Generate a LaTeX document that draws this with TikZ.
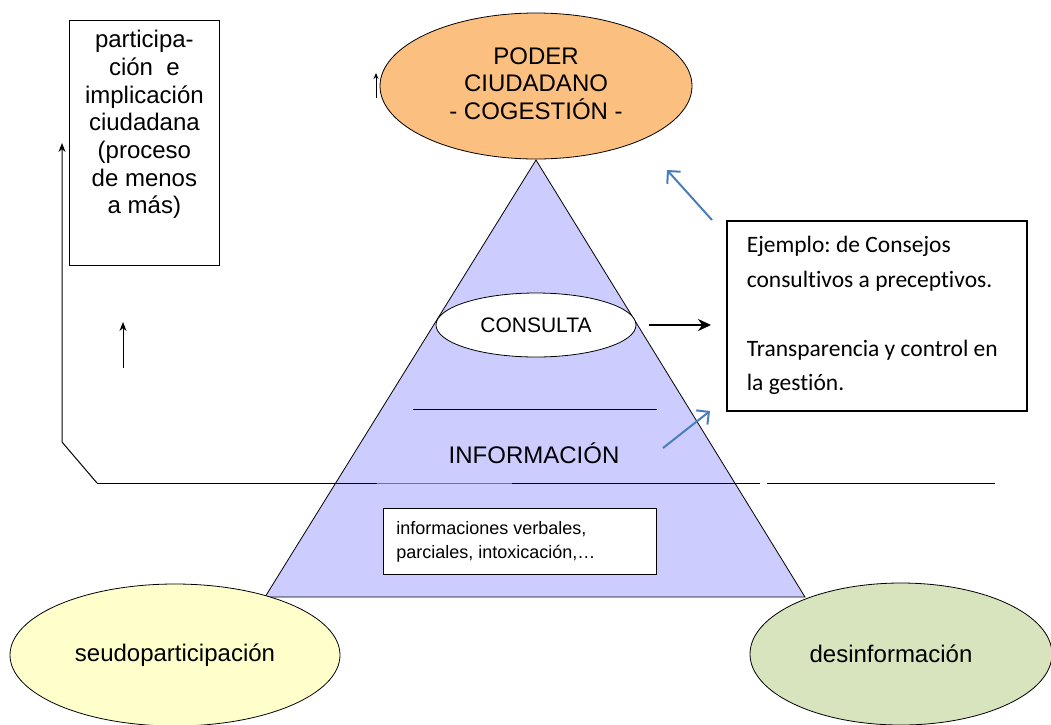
\documentclass[tikz,border=0pt]{standalone}
\usepackage{fontspec}
\setmainfont{Liberation Sans}
\newfontfamily\calibrifont[Ligatures=NoCommon]{Carlito}
\usetikzlibrary{shapes.geometric, arrows.meta, calc}
\definecolor{poderColor}{RGB}{251, 191, 128}
\definecolor{pyramidColor}{RGB}{204, 204, 255}
\definecolor{seudoColor}{RGB}{255, 255, 204}
\definecolor{desinfoColor}{RGB}{215, 228, 189}
\definecolor{blueArrowColor}{RGB}{74, 126, 187}
\frenchspacing

\begin{document}
\begin{tikzpicture}[
    x=1pt, y=-1pt,
    oval/.style={ellipse, draw, line width=0.8pt, inner sep=0pt, align=center},
    box/.style={rectangle, draw, line width=0.8pt, inner sep=0pt},
    arrow/.style={-{Stealth[length=9pt, width=7pt]}, line width=1pt},
    smallarrow/.style={-{Stealth[length=6pt, width=5pt]}, line width=1pt},
    bigarrow/.style={-{Stealth[length=13pt, width=12pt]}, line width=2pt},
    bluearrow/.style={-{Straight Barb[length=9pt, width=18pt]}, blueArrowColor, line width=2pt},
    big/.style={font=\fontsize{24}{27.5}\selectfont}
]
    \useasboundingbox (0,0) rectangle (1051,724);

    % Pyramid
    \coordinate (apex) at (536,160);
    \coordinate (baseL) at (265,597);
    \coordinate (baseR) at (805,597);
    \draw[fill=pyramidColor, line width=0.8pt] (apex) -- (baseL) -- (baseR) -- cycle;
    \draw[line width=1pt] (413,409) -- (657,409);

    % Top
    \node[oval, fill=poderColor, minimum width=312, minimum height=146, big] (poder) at (536,86)
        {PODER\\CIUDADANO\\- COGESTI\'ON -\vphantom{y}};

    % Levels
    \node[oval, fill=white, minimum width=200, minimum height=64, font=\fontsize{21}{24}\selectfont] (consulta) at (536,325) {CONSULTA};
    \node[font=\fontsize{24}{28}\selectfont] (informacion) at (534,453) {INFORMACI\'ON};
    \node[box, fill=white, anchor=north west, minimum width=273, minimum height=66] (verbales) at (383,508)
        {\parbox{247pt}{\fontsize{18}{24}\selectfont informaciones verbales,\\parciales, intoxicaci\'on,\dots}};

    % Side boxes
    \node[box, anchor=north west, minimum width=150, minimum height=245] (proceso) at (69,20)
        {\parbox[t][225pt][t]{140pt}{\centering\fontsize{24}{27.7}\selectfont participa-\\ci\'on~ e\\implicaci\'on\\ciudadana\\(proceso\\de menos\\a m\'as)}};
    \node[box, line width=1.6pt, anchor=north west, minimum width=300, minimum height=190] (ejemplo) at (726,220)
        {\parbox{260pt}{\calibrifont\fontsize{23.5}{34.5}\selectfont Ejemplo: de Consejos\\consultivos a preceptivos.\\[34.5pt]Transparencia y control en\\la gesti\'on.}};

    % Bottom
    \node[oval, fill=seudoColor, minimum width=330, minimum height=142, font=\fontsize{24}{28}\selectfont] (seudo) at (175,655) {seudoparticipaci\'on};
    \node[oval, fill=desinfoColor, minimum width=302, minimum height=142, font=\fontsize{24}{28}\selectfont] (desinfo) at (901,654) {desinformaci\'on\hspace*{20pt}};

    % Baseline
    \coordinate (lineStart) at (97,483);
    \coordinate (lineCorner) at (62,442);
    \coordinate (lineTop) at (62,143);
    \draw[line width=1pt] (lineStart) -- (760,483);
    \draw[line width=1pt] (767,483) -- (995,483);
    \draw[blueArrowColor, line width=1.2pt] (377,483.5) -- (512,483.5);

    % Arrows
    \draw[arrow] (lineStart) -- (lineCorner) -- (lineTop);
    \coordinate (upLow) at (123,368);
    \coordinate (upHigh) at (123,322);
    \draw[arrow] (upLow) -- (upHigh);
    \coordinate (tinyLow) at (376,98);
    \coordinate (tinyHigh) at (376,73);
    \draw[smallarrow] (tinyLow) -- (tinyHigh);
    \draw[bigarrow, shorten <=13pt, shorten >=15pt] (consulta.east) -- (consulta.east -| ejemplo.west);
    \coordinate (infoTail) at (663,448);
    \coordinate (infoHead) at (710,411);
    \draw[bluearrow] (infoTail) -- (infoHead);
    \coordinate (poderTail) at (712,220);
    \coordinate (poderHead) at (667,170);
    \draw[bluearrow] (poderTail) -- (poderHead);

\end{tikzpicture}
\end{document}
